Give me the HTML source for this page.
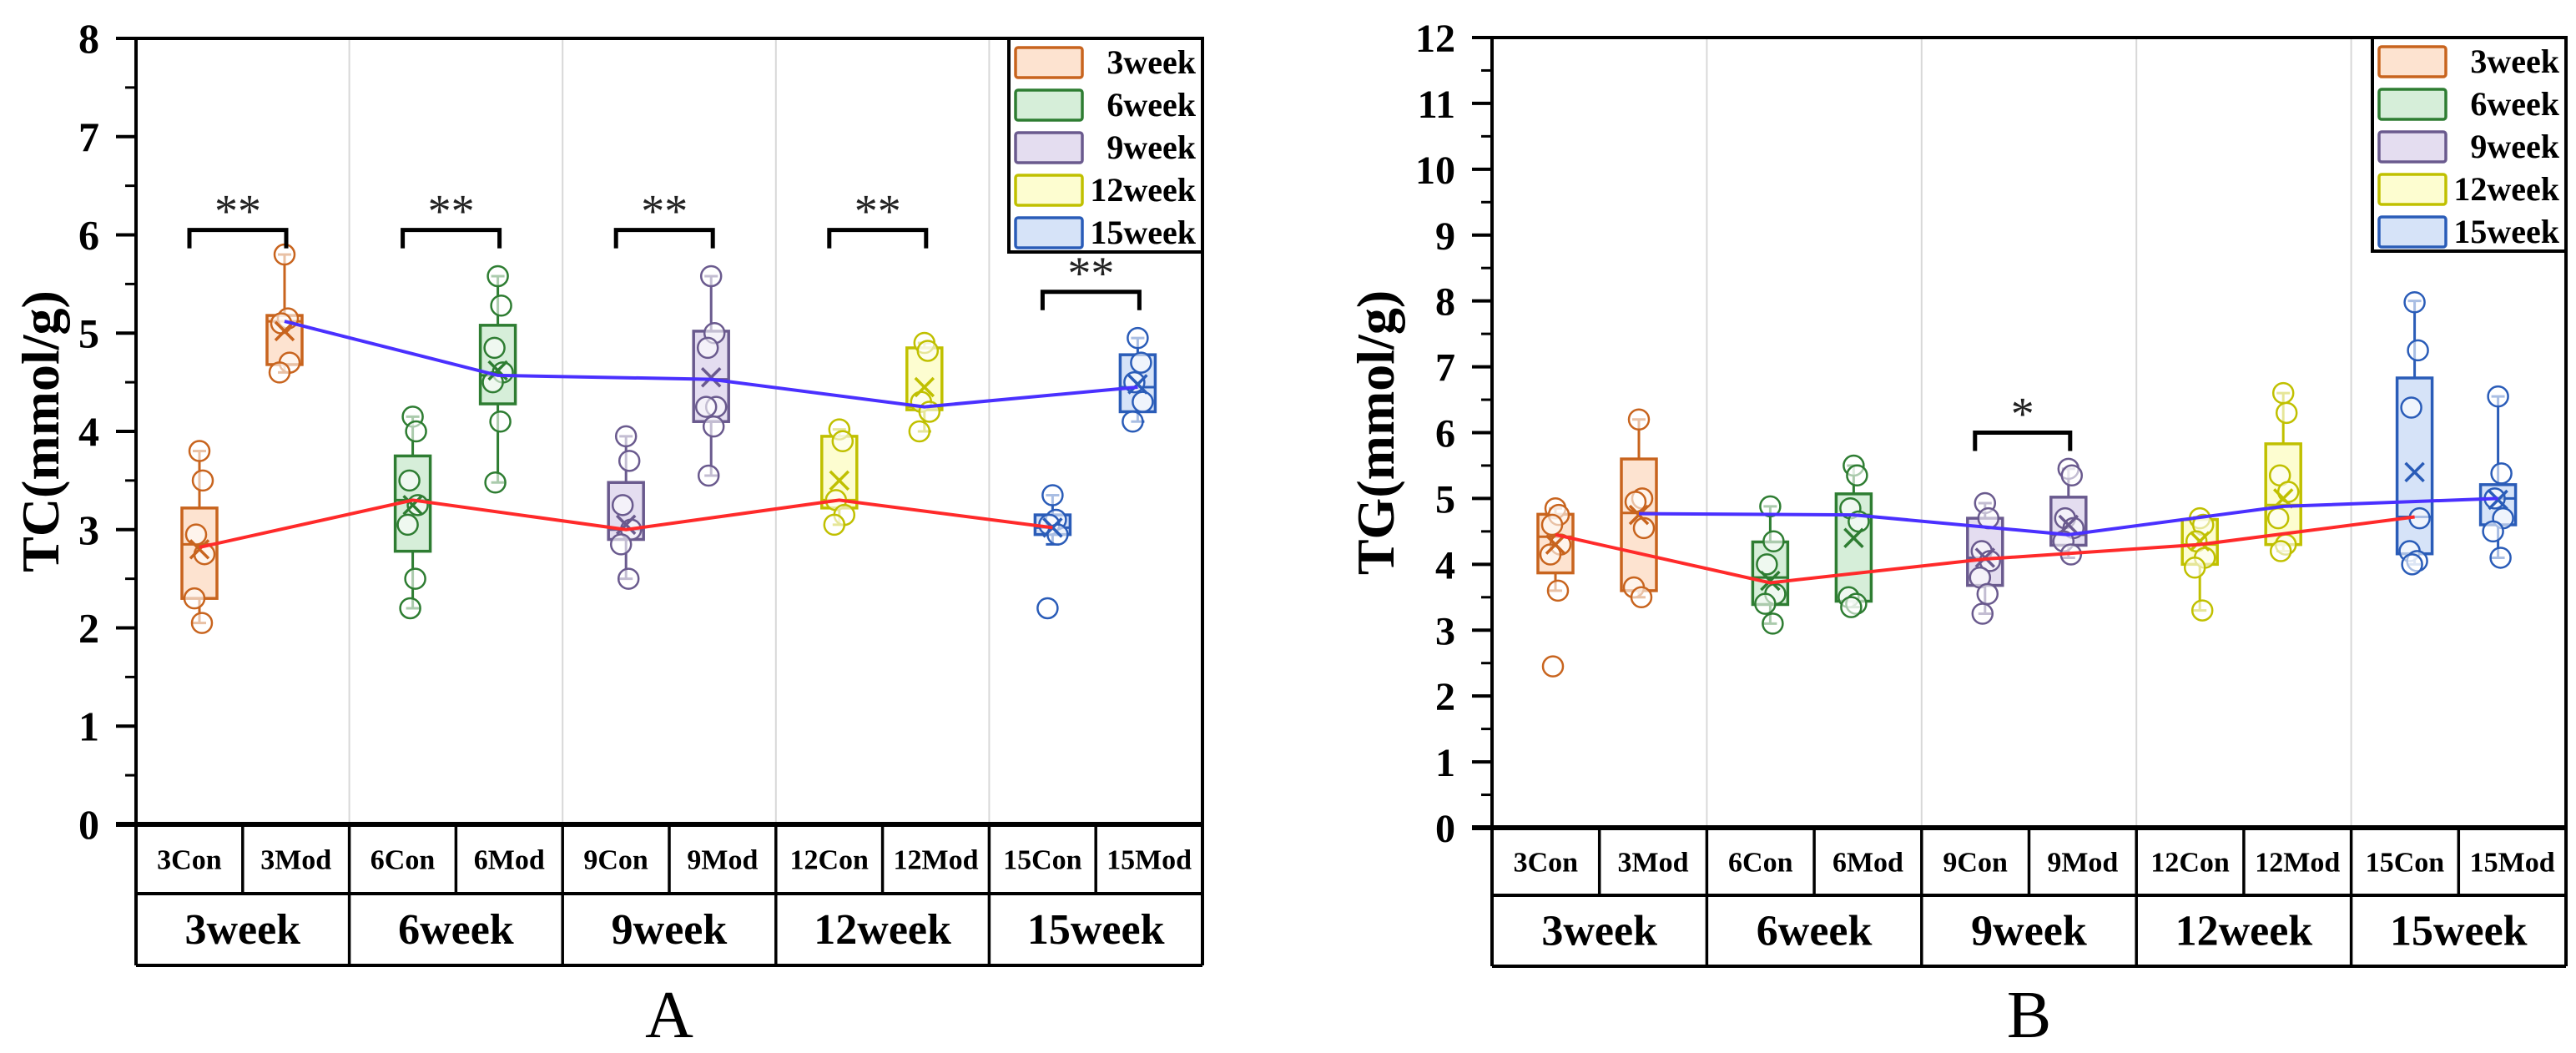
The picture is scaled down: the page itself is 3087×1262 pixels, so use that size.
<!DOCTYPE html>
<html><head><meta charset="utf-8"><style>
html,body{margin:0;padding:0;background:#fff}
svg{display:block}
text{font-family:"Liberation Serif",serif}
</style></head><body>
<svg id="chart" width="3087" height="1262" viewBox="0 0 3087 1262" xmlns="http://www.w3.org/2000/svg"></svg>
<script>
const categories=["3Con","3Mod","6Con","6Mod","9Con","9Mod","12Con","12Mod","15Con","15Mod"];
const groups=["3week","6week","9week","12week","15week"];
// Panel A (TC)
const tcQ1=[2.3,4.68,2.78,4.28,2.9,4.1,3.22,4.22,2.95,4.2];
const tcQ3=[3.22,5.18,3.75,5.08,3.48,5.02,3.95,4.85,3.15,4.78];
const tcMedian=[2.85,5.12,3.3,4.57,3.0,4.53,3.3,4.25,3.02,4.45];
const tcMean=[2.8,5.02,3.25,4.62,3.05,4.55,3.5,4.45,3.02,4.48];
const tcWhiskerLo=[2.05,4.6,2.2,3.48,2.5,3.55,3.05,4.0,2.85,4.1];
const tcWhiskerHi=[3.8,5.8,4.15,5.58,3.95,5.58,4.02,4.9,3.35,4.95];
const tcPoints=[[3.8,3.5,2.95,2.75,2.3,2.05],[5.8,5.15,5.1,4.7,4.6],[4.15,4.0,3.5,3.25,3.05,2.5,2.2],[5.58,5.28,4.85,4.6,4.5,4.1,3.48],[3.95,3.7,3.25,3.0,2.85,2.5],[5.58,5.0,4.85,4.25,4.25,4.05,3.55],[4.02,3.9,3.3,3.15,3.05],[4.9,4.82,4.3,4.2,4.0],[3.35,3.1,3.05,2.95,2.2],[4.95,4.7,4.5,4.3,4.1]];
const tcConLine=[2.82,3.3,3.0,3.3,3.02];
const tcModLine=[5.12,4.57,4.53,4.25,4.45];
const tcBracketY=[6.05,6.05,6.05,6.05,5.42];
const tcStars=["**","**","**","**","**"];
const tcTicks=[0,1,2,3,4,5,6,7,8];
// Panel B (TG)
const tgQ1=[3.87,3.6,3.39,3.44,3.68,4.29,4.0,4.3,4.16,4.6];
const tgQ3=[4.76,5.6,4.34,5.07,4.7,5.02,4.68,5.83,6.83,5.21];
const tgMedian=[4.42,4.78,3.8,4.75,4.1,4.45,4.3,4.9,4.72,5.0];
const tgMean=[4.3,4.75,3.75,4.4,4.1,4.6,4.35,5.0,5.4,4.98];
const tgWhiskerLo=[3.6,3.5,3.1,3.35,3.25,4.1,3.3,4.2,4.0,4.1];
const tgWhiskerHi=[4.85,6.2,4.88,5.5,4.93,5.45,4.72,6.6,8.0,6.55];
const tgPoints=[[4.85,4.75,4.6,4.3,4.15,3.6,2.45],[6.2,5.0,4.95,4.55,3.65,3.5],[4.88,4.35,4.0,3.55,3.4,3.1],[5.5,5.35,4.85,4.65,3.5,3.4,3.35],[4.93,4.7,4.2,4.05,3.8,3.55,3.25],[5.45,5.35,4.7,4.55,4.35,4.15],[4.7,4.6,4.35,4.1,3.95,3.3],[6.6,6.3,5.35,5.1,4.7,4.3,4.2],[7.98,7.25,6.38,4.7,4.2,4.05,4.0],[6.55,5.38,5.0,4.7,4.5,4.1]];
const tgConLine=[4.45,3.72,4.08,4.3,4.72];
const tgModLine=[4.77,4.75,4.45,4.88,5.0];
const tgBracketGroups=[2];
const tgBracketY=[6.0];
const tgStars=["*"];
const tgTicks=[0,1,2,3,4,5,6,7,8,9,10,11,12];

const stroke=["#c8641e","#2e7d32","#6a5a8e","#c0c000","#2a5cb8"];
const fill=["#fde3d0","#d6eed9","#e4ddf0","#fdfdd0","#d6e3f8"];
const NS="http://www.w3.org/2000/svg";
const svg=document.getElementById('chart');
function el(tag,attrs,parent,txt){const e=document.createElementNS(NS,tag);for(const k in attrs)e.setAttribute(k,attrs[k]);if(txt!==undefined)e.textContent=txt;(parent||svg).appendChild(e);return e;}

function panel(cfg){
  const g=el('g',{});
  
  
  const L=cfg.left,R=cfg.right,T=cfg.top,B=cfg.bottom,ymax=cfg.ymax;
  const y=v=>B-(v/ymax)*(B-T);
  const colW=(R-L)/10, grpW=colW*2;
  const cx=i=>L+Math.floor(i/2)*grpW+(i%2===0?cfg.conOff:cfg.modOff);
  // group separators
  for(let k=1;k<5;k++){const l=el('line',{x1:L+k*grpW,x2:L+k*grpW,y1:T,y2:B,stroke:'#d8d8d8','stroke-width':2},g);
    }
  // ticks
  for(const t of cfg.ticks){
    const ty=y(t);
    const tk=el('line',{x1:L-24,x2:L,y1:ty,y2:ty,stroke:'#000','stroke-width':4},g);
    
    const tl=el('text',{x:L-44,y:ty+17,'text-anchor':'end','font-size':cfg.tickFont,'font-weight':'bold'},g,String(t));
    
    if(cfg.minor&&t<ymax){const my=y(t+0.5);const mt=el('line',{x1:L-13,x2:L,y1:my,y2:my,stroke:'#000','stroke-width':3},g);
      }
  }
  // axis title
  const at=el('text',{x:0,y:0,transform:`translate(${cfg.titleX},${(T+B)/2}) rotate(-90)`,'text-anchor':'middle','font-size':64,'font-weight':'bold'},g,cfg.title);
  
  // lines
  const conPts=cfg.conLine.map((v,k)=>`${cx(2*k)},${y(v)}`).join(' ');
  const modPts=cfg.modLine.map((v,k)=>`${cx(2*k+1)},${y(v)}`).join(' ');
  // boxes
  for(let i=0;i<10;i++){
    const c=Math.floor(i/2),x=cx(i),bw=42;
    const bg=el('g',{},g);
    
    el('line',{x1:x,x2:x,y1:y(cfg.wHi[i]),y2:y(cfg.q3[i]),stroke:stroke[c],'stroke-width':3},bg);
    el('line',{x1:x,x2:x,y1:y(cfg.q1[i]),y2:y(cfg.wLo[i]),stroke:stroke[c],'stroke-width':3},bg);
    el('line',{x1:x-8,x2:x+8,y1:y(cfg.wHi[i]),y2:y(cfg.wHi[i]),stroke:stroke[c],'stroke-width':3},bg);
    el('line',{x1:x-8,x2:x+8,y1:y(cfg.wLo[i]),y2:y(cfg.wLo[i]),stroke:stroke[c],'stroke-width':3},bg);
    el('rect',{x:x-bw/2,y:y(cfg.q3[i]),width:bw,height:y(cfg.q1[i])-y(cfg.q3[i]),fill:fill[c],stroke:stroke[c],'stroke-width':3.5},bg);
    el('line',{x1:x-bw/2,x2:x+bw/2,y1:y(cfg.med[i]),y2:y(cfg.med[i]),stroke:stroke[c],'stroke-width':3},bg);
    cfg.pts[i].forEach((v,j)=>{
      const off=[0,4,-4,6,-6,3,-3][j%7];
      const p=el('circle',{cx:x+off,cy:y(v),r:12,fill:'rgba(255,255,255,0.6)',stroke:stroke[c],'stroke-width':2.5},bg);
      
    });
    const my=y(cfg.mean[i]),s=11;
    const mk=el('path',{d:`M${x-s},${my-s}L${x+s},${my+s}M${x+s},${my-s}L${x-s},${my+s}`,stroke:stroke[c],'stroke-width':3.5,fill:'none'},bg);
    
  }
  const cl=el('polyline',{points:conPts,fill:'none',stroke:'#ff2a2a','stroke-width':4},g);
  
  const ml=el('polyline',{points:modPts,fill:'none',stroke:'#4a30ff','stroke-width':4},g);
  
  // brackets
  cfg.brGroups.forEach((k,j)=>{
    const x1=cx(2*k)-12,x2=cx(2*k+1)+2,by=y(cfg.brY[j]),leg=cfg.legLen;
    const br=el('path',{d:`M${x1},${by+leg}V${by}H${x2}V${by+leg}`,fill:'none',stroke:'#000','stroke-width':5},g);
    
    const st=el('text',{x:(x1+x2)/2,y:by-4,'text-anchor':'middle','font-size':56,'fill':'#222'},g,cfg.stars[j]);
    
  });
  // frame
  const fr=el('path',{d:`M${L},${B}V${T}H${R}V${B}`,fill:'none',stroke:'#000','stroke-width':4},g);
  
  // table
  const r1=cfg.row1,r2=cfg.row2;
  const tb=el('g',{},g);
  el('line',{x1:L-24,x2:R,y1:B,y2:B,stroke:'#000','stroke-width':6},tb);
  el('line',{x1:L,x2:R,y1:r1,y2:r1,stroke:'#000','stroke-width':4},tb);
  el('line',{x1:L,x2:R,y1:r2,y2:r2,stroke:'#000','stroke-width':4},tb);
  el('line',{x1:L,x2:L,y1:B,y2:r2,stroke:'#000','stroke-width':4},tb);
  el('line',{x1:R,x2:R,y1:B,y2:r2,stroke:'#000','stroke-width':4},tb);
  for(let i=1;i<10;i++){const xx=L+i*colW;el('line',{x1:xx,x2:xx,y1:B,y2:(i%2===0?r2:r1),stroke:'#000','stroke-width':3.5},tb);}
  categories.forEach((c,i)=>{const t=el('text',{x:L+(i+0.5)*colW,y:(B+r1)/2+12,'text-anchor':'middle','font-size':34,'font-weight':'bold'},tb,c);
    });
  groups.forEach((c,k)=>{const t=el('text',{x:L+(k+0.5)*grpW,y:(r1+r2)/2+17,'text-anchor':'middle','font-size':52,'font-weight':'bold'},tb,c);
    });
  const pl=el('text',{x:(L+R)/2,y:1243,'text-anchor':'middle','font-size':80},g,cfg.letter);
  
  // legend
  const lg=el('g',{},g);
  const lx=R-232;
  el('rect',{x:lx,y:T,width:232,height:256,fill:'#fff',stroke:'#000','stroke-width':4},lg);
  groups.forEach((gname,k)=>{
    const ly=T+29+k*51;
    const e=el('g',{},lg);
    el('rect',{x:lx+8,y:ly-18,width:80,height:36,rx:3,fill:fill[k],stroke:stroke[k],'stroke-width':3.5},e);
    el('text',{x:R-8,y:ly+13,'text-anchor':'end','font-size':40,'font-weight':'bold'},e,gname);
  });
}
panel({name:'panel-a-tc',left:163,right:1441,top:46,bottom:988,ymax:8,ticks:tcTicks,minor:true,tickFont:50,title:'TC(mmol/g)',titleX:70,
  conOff:76,modOff:178,q1:tcQ1,q3:tcQ3,med:tcMedian,mean:tcMean,wLo:tcWhiskerLo,wHi:tcWhiskerHi,pts:tcPoints,conLine:tcConLine,modLine:tcModLine,
  brGroups:[0,1,2,3,4],brY:tcBracketY,stars:tcStars,legLen:22,row1:1071,row2:1157,letter:'A'});
panel({name:'panel-b-tg',left:1788,right:3075,top:45,bottom:992,ymax:12,ticks:tgTicks,minor:true,tickFont:48,title:'TG(mmol/g)',titleX:1670,
  conOff:76,modOff:176,q1:tgQ1,q3:tgQ3,med:tgMedian,mean:tgMean,wLo:tgWhiskerLo,wHi:tgWhiskerHi,pts:tgPoints,conLine:tgConLine,modLine:tgModLine,
  brGroups:tgBracketGroups,brY:tgBracketY,stars:tgStars,legLen:22,row1:1073,row2:1158,letter:'B'});
</script>
</body></html>
